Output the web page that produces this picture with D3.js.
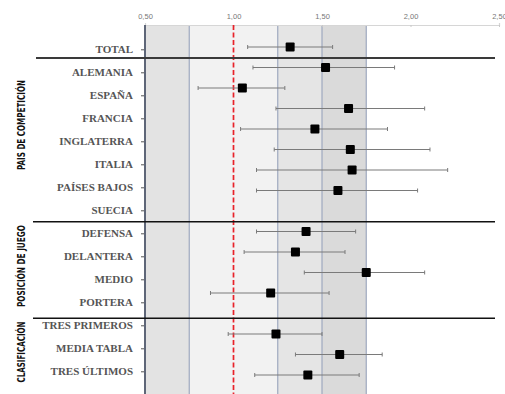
<!DOCTYPE html>
<html><head><meta charset="utf-8">
<script src="https://cdn.jsdelivr.net/npm/d3@7"></script>
<style>html,body{margin:0;padding:0;background:#fff;}svg{display:block;}</style>
</head><body>
<script>
// ---- data ----
const rowLabels = ["TOTAL","ALEMANIA","ESPAÑA","FRANCIA","INGLATERRA","ITALIA","PAÍSES BAJOS","SUECIA",
  "DEFENSA","DELANTERA","MEDIO","PORTERA","TRES PRIMEROS","MEDIA TABLA","TRES ÚLTIMOS"];
// marker slots (the plotted markers sit on their own, slightly tighter grid, with two empty slots)
const markerSlots = ["TOTAL","ALEMANIA","ESPAÑA","FRANCIA","INGLATERRA","ITALIA","PAÍSES BAJOS","SUECIA","_gap1",
  "DEFENSA","DELANTERA","MEDIO","PORTERA","_gap2","TRES PRIMEROS","MEDIA TABLA","TRES ÚLTIMOS"];
const estimate = [1.32,1.52,1.05,1.65,1.46,1.66,1.67,1.59,1.41,1.35,1.75,1.21,1.24,1.60,1.42];
const lower    = [1.08,1.11,0.80,1.24,1.04,1.23,1.13,1.13,1.13,1.06,1.40,0.87,0.97,1.35,1.12];
const upper    = [1.56,1.91,1.29,2.08,1.87,2.11,2.21,2.04,1.69,1.63,2.08,1.54,1.50,1.84,1.71];
const tickValues = [0.5,1.0,1.5,2.0,2.5];
const tickLabels = ["0,50","1,00","1,50","2,00","2,50"];
const bandEdges = [0.5,0.75,1.25,1.5,1.75];
const groups = ["PAIS DE COMPETICIÓN","POSICIÓN DE JUEGO","CLASIFICACIÓN"];
const refValue = 1.0;

// ---- layout ----
const W = 505, H = 394;
const SERIF = "'Liberation Serif', 'Times New Roman', 'DejaVu Serif', serif";
const SANS = "'Liberation Sans', Arial, sans-serif";
const NARROW = "'Liberation Sans Narrow', 'DejaVu Sans Condensed', 'Liberation Sans', sans-serif";
const svg = d3.select("body").append("svg").attr("width", W).attr("height", H);
const x = d3.scaleLinear().domain([0.5, 2.5]).range([145, 499]);
const yLab = d3.scalePoint().domain(rowLabels).range([49.3, 371.3]);
const yMk = d3.scalePoint().domain(markerSlots).range([47, 375]);
const plotTop = 25;

// bands
const bandFill = ["#e3e3e3","#f2f2f2","#e5e5e5","#dadada"];
const bands = d3.pairs(bandEdges);
svg.append("g").selectAll("rect").data(bands).join("rect")
  .attr("x", d => x(d[0])).attr("width", d => x(d[1]) - x(d[0]))
  .attr("y", plotTop).attr("height", H - plotTop)
  .attr("fill", (d, i) => bandFill[i]);
svg.append("g").selectAll("line").data(bandEdges.slice(1)).join("line")
  .attr("x1", d => x(d)).attr("x2", d => x(d))
  .attr("y1", plotTop).attr("y2", H)
  .attr("stroke", "#9ea8bf").attr("stroke-width", 1.2);

// top axis
const topAxis = d3.axisTop(x).tickValues(tickValues)
  .tickFormat((d, i) => tickLabels[i]).tickSize(2).tickPadding(6);
const gTop = svg.append("g").attr("transform", `translate(0,${plotTop})`).call(topAxis);
gTop.attr("font-family", SANS);
gTop.select(".domain").attr("stroke", "#d6d6d6").attr("stroke-width", 1.2);
gTop.selectAll(".tick line").attr("stroke", "#c8c8c8").attr("transform", "translate(0,2)");
gTop.selectAll(".tick text").style("font-family", SANS)
  .attr("font-size", 7.5).attr("fill", "#777").attr("dy", "0.2em");

// left axis (category labels)
const leftAxis = d3.axisLeft(yLab).tickSize(3).tickPadding(9);
const gLeft = svg.append("g").attr("transform", `translate(${x(0.5)},0)`).call(leftAxis);
gLeft.attr("font-family", SERIF);
gLeft.select(".domain").remove();
gLeft.selectAll(".tick line").attr("stroke", "#555").attr("transform", "translate(-1,0)");
gLeft.selectAll(".tick text")
  .style("font-family", SERIF).style("font-weight", "bold").style("font-size", "11px")
  .attr("fill", "#555");
svg.append("line").attr("x1", x(0.5)).attr("x2", x(0.5)).attr("y1", plotTop).attr("y2", H)
  .attr("stroke", "#5e6678").attr("stroke-width", 2);

// reference line
svg.append("line").attr("x1", x(refValue)).attr("x2", x(refValue)).attr("y1", plotTop).attr("y2", H)
  .attr("stroke", "#e8222a").attr("stroke-width", 1.7).attr("stroke-dasharray", "5,2.5");

// separators
const seps = [{y: 58, x1: 36, w: 2, c: "#3a3a3a"}, {y: 221.7, x1: 33, w: 1.5, c: "#111"}, {y: 318.3, x1: 33, w: 1.5, c: "#111"}];
svg.append("g").selectAll("line").data(seps).join("line")
  .attr("x1", d => d.x1).attr("x2", 495).attr("y1", d => d.y).attr("y2", d => d.y)
  .attr("stroke", d => d.c).attr("stroke-width", d => d.w);

// error bars + markers
const rows = rowLabels.map((r, i) => ({name: r, est: estimate[i], lo: lower[i], hi: upper[i]}));
const gM = svg.append("g");
gM.selectAll("line.ci").data(rows).join("line").attr("class", "ci")
  .attr("x1", d => x(d.lo)).attr("x2", d => x(d.hi))
  .attr("y1", d => yMk(d.name)).attr("y2", d => yMk(d.name))
  .attr("stroke", "#7a7a7a").attr("stroke-width", 1.1);
["lo", "hi"].forEach(k => {
  gM.selectAll("line.cap" + k).data(rows).join("line").attr("class", "cap" + k)
    .attr("x1", d => x(d[k])).attr("x2", d => x(d[k]))
    .attr("y1", d => yMk(d.name) - 2).attr("y2", d => yMk(d.name) + 2)
    .attr("stroke", "#7a7a7a").attr("stroke-width", 1);
});
gM.selectAll("rect").data(rows).join("rect")
  .attr("x", d => x(d.est) - 4.5).attr("y", d => yMk(d.name) - 4.5)
  .attr("width", 9).attr("height", 9).attr("rx", 1).attr("fill", "#000");

// group labels
const groupCenters = [125, 266, 352];
const groupLens = [90, 82, 61];
svg.append("g").selectAll("text").data(groups).join("text")
  .style("font-family", NARROW).style("font-weight", "bold")
  .attr("transform", (d, i) => `translate(22,${groupCenters[i]}) rotate(-90)`)
  .attr("text-anchor", "middle").attr("dominant-baseline", "middle")
  .attr("font-size", 10.5).attr("fill", "#111")
  .attr("textLength", (d, i) => groupLens[i]).attr("lengthAdjust", "spacingAndGlyphs")
  .text(d => d);
</script>
</body></html>
